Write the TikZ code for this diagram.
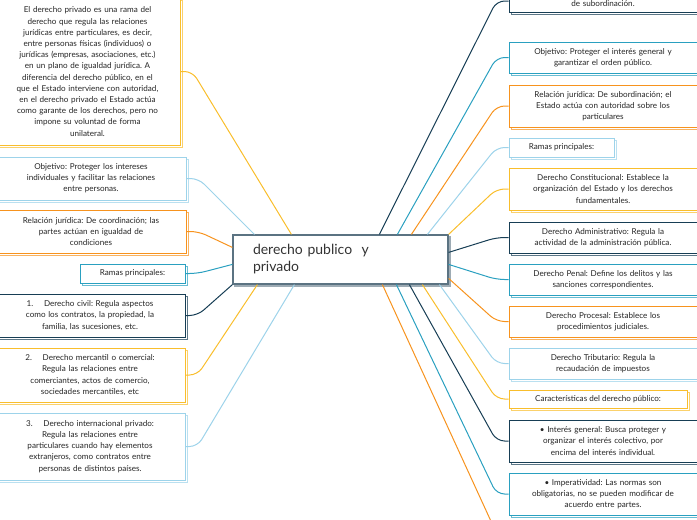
\documentclass[tikz,border=0pt]{standalone}
\usepackage{fontspec}
\setmainfont{Lato}
\frenchspacing
\usetikzlibrary{positioning, calc, shadows}
\definecolor{myyellow}{HTML}{F9BE2C}
\definecolor{myblue}{HTML}{9DD3EA}
\definecolor{myorange}{HTML}{F7931E}
\definecolor{myteal}{HTML}{2AA0C0}
\definecolor{mynavy}{HTML}{173E55}
\definecolor{mygray}{HTML}{5B7382}
\tikzset{ % boxes and connectors
  my box/.style={draw=#1,fill=white,line width=1pt,align=center,inner sep=1pt,
    font=\fontsize{8.1}{11.2}\selectfont,text=black!85,
    general shadow={shadow xshift=2pt,shadow yshift=-2pt,draw=#1!70,fill=white,line width=1pt}},
  rbox/.style={my box=#1,minimum width=188pt,text width=180pt},
  lbox/.style={my box=#1,minimum width=190pt,text width=182pt},
  link/.style={draw=#1,line width=1pt,rounded corners=8pt}
}
\begin{document}
\begin{tikzpicture}[x=1pt,y=-1pt]
\useasboundingbox (0,0) rectangle (697,520);

% central topic
\node[draw=mygray,fill=white,line width=1.2pt,minimum width=215pt,minimum height=49pt,
  text width=175pt,align=left,inner sep=0pt,font=\fontsize{14}{17}\selectfont,text=black!80,
  general shadow={shadow xshift=2pt,shadow yshift=-2pt,draw=mygray!60,fill=white}]
  (cen) at (340.5,259.5) {derecho publico\ \ y\\privado};

% right side
\node[rbox=mynavy,minimum height=22pt]  (topR) at (603,1)     {\mbox{}\\de subordinación.};
\node[rbox=myteal,minimum height=31pt]  (objR) at (603,57.5)  {Objetivo: Proteger el interés general y\\garantizar el orden público.};
\node[rbox=myorange,minimum height=42pt](relR) at (603,106)   {Relación jurídica: De subordinación; el\\Estado actúa con autoridad sobre los\\particulares};
\node[my box=myblue,minimum width=105pt,minimum height=19pt] (ramR) at (561.5,147.5) {Ramas principales:};
\node[rbox=myyellow,minimum height=42pt](conR) at (603,189)   {Derecho Constitucional: Establece la\\organización del Estado y los derechos\\fundamentales.};
\node[rbox=mynavy,minimum height=31pt]  (admR) at (603,237.5) {Derecho Administrativo: Regula la\\actividad de la administración pública.};
\node[rbox=myteal,minimum height=31pt]  (penR) at (603,279.5) {Derecho Penal: Define los delitos y las\\sanciones correspondientes.};
\node[rbox=myorange,minimum height=31pt](proR) at (603,321.5) {Derecho Procesal: Establece los\\procedimientos judiciales.};
\node[rbox=myblue,minimum height=31pt]  (triR) at (603,363.5) {Derecho Tributario: Regula la\\recaudación de impuestos};
\node[my box=myyellow,minimum width=178pt,minimum height=18pt] (carR) at (598,399) {Características del derecho público:};
\node[rbox=mynavy,minimum height=42pt]  (intR) at (603,441)   {• Interés general: Busca proteger y\\organizar el interés colectivo, por\\encima del interés individual.};
\node[rbox=myteal,minimum height=42pt]  (impR) at (603,494)   {• Imperatividad: Las normas son\\obligatorias, no se pueden modificar de\\acuerdo entre partes.};
\coordinate (offB) at (495,530);

% left side
\node[lbox=myyellow,minimum height=147pt,minimum width=185pt] (bigL) at (87.5,71.5)
  {El derecho privado es una rama del\\derecho que regula las relaciones\\jurídicas entre particulares, es decir,\\entre personas físicas (individuos) o\\jurídicas (empresas, asociaciones, etc.)\\en un plano de igualdad jurídica. A\\diferencia del derecho público, en el\\que el Estado interviene con autoridad,\\en el derecho privado el Estado actúa\\como garante de los derechos, pero no\\impone su voluntad de forma\\unilateral.};
\node[lbox=myblue,minimum height=43pt]   (objL) at (91,178.5)  {Objetivo: Proteger los intereses\\individuales y facilitar las relaciones\\entre personas.};
\node[lbox=myorange,minimum height=43pt] (relL) at (91,231.5)  {Relación jurídica: De coordinación; las\\partes actúan en igualdad de\\condiciones};
\node[my box=myteal,minimum width=105pt,minimum height=19pt] (ramL) at (132.5,273.5) {Ramas principales:};
\node[lbox=mynavy,minimum height=43pt]   (civL) at (90,315.5)  {1.\quad\ Derecho civil: Regula aspectos\\como los contratos, la propiedad, la\\familia, las sucesiones, etc.};
\node[lbox=myyellow,minimum height=54pt] (merL) at (90,375)    {2.\quad\ Derecho mercantil o comercial:\\Regula las relaciones entre\\comerciantes, actos de comercio,\\sociedades mercantiles, etc};
\node[lbox=myblue,minimum height=67pt]   (intL) at (90,446.5)  {3.\quad\ Derecho internacional privado:\\Regula las relaciones entre\\particulares cuando hay elementos\\extranjeros, como contratos entre\\personas de distintos países.};

% connections right
\foreach\b/\c/\a/\dx/\dy in {topR/mynavy/north west/147/0,
    objR/myteal/north west/165/0, relR/myorange/north west/179/0,
    ramR/myblue/north west/195/0, conR/myyellow/north east/0/0,
    admR/mynavy/north east/0/18, penR/myteal/north east/0/30,
    proR/myorange/north east/0/44, triR/myblue/south west/207/0,
    carR/myyellow/south west/190/0, intR/mynavy/south west/177/0,
    impR/myteal/south west/164/0}
  \draw[link=\c] ($(cen.\a)+(\dx,\dy)$) -- ($(\b.west)+(-12,0)$) -- (\b.west);
\draw[link=myorange] ($(cen.south west)+(150,0)$) -- (offB);
% connections left
\foreach\b/\c/\a/\dx/\dy in {bigL/myyellow/north west/59/0,
    objL/myblue/north west/22/0, relL/myorange/north west/0/13,
    ramL/myteal/north west/0/30, civL/mynavy/south west/0/0,
    merL/myyellow/south west/25/0, intL/myblue/south west/62/0}
  \draw[link=\c] ($(cen.\a)+(\dx,\dy)$) -- ($(\b.east)+(12,0)$) -- (\b.east);
\end{tikzpicture}
\end{document}
